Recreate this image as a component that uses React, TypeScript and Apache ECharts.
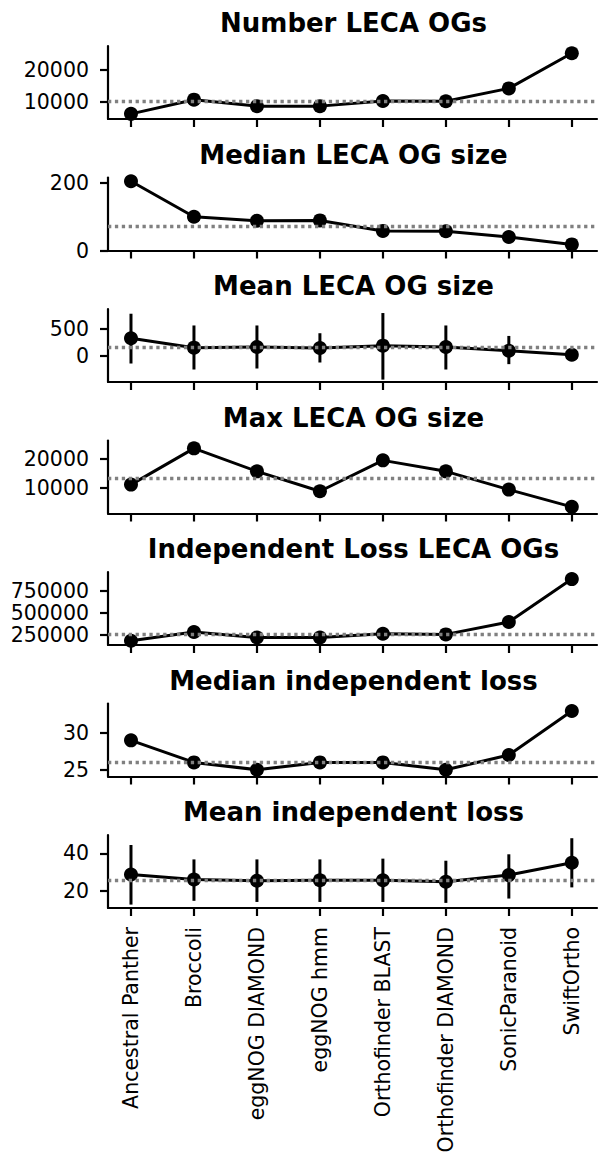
import React, { useEffect, useRef } from "react";
import * as echarts from "echarts";

const categories = [
  "Ancestral Panther",
  "Broccoli",
  "eggNOG DIAMOND",
  "eggNOG hmm",
  "Orthofinder BLAST",
  "Orthofinder DIAMOND",
  "SonicParanoid",
  "SwiftOrtho",
];

const numberOGs = [6300, 10700, 8700, 8700, 10300, 10200, 14200, 25100];
const numberOGsRef = 10250;
const numberOGsTicks = [10000, 20000];

const medianSize = [205, 100, 88, 89, 58, 57, 40, 18];
const medianSizeRef = 73;
const medianSizeTicks = [0, 200];

const meanSize = [329, 152, 165, 146, 190, 165, 95, 19];
const meanSizeLow = [-146, -259, -240, -127, -449, -259, -158, 0];
const meanSizeHigh = [791, 570, 570, 424, 804, 570, 373, 40];
const meanSizeRef = 158;
const meanSizeTicks = [0, 500];

const maxSize = [11030, 23600, 15630, 8740, 19430, 15630, 9310, 3330];
const maxSizeRef = 13330;
const maxSizeTicks = [10000, 20000];

const indepLoss = [181000, 281000, 219000, 219000, 261000, 254000, 396000, 885000];
const indepLossRef = 258000;
const indepLossTicks = [250000, 500000, 750000];

const medianLoss = [29, 26, 25, 26, 26, 25, 27, 33];
const medianLossRef = 26;
const medianLossTicks = [25, 30];

const meanLoss = [28.8, 26.2, 25.5, 25.8, 25.8, 25.0, 28.5, 35.0];
const meanLossLow = [12.9, 14.9, 14.3, 14.3, 14.3, 13.8, 16.1, 22.0];
const meanLossHigh = [44.4, 36.8, 36.8, 36.8, 37.2, 36.1, 39.5, 48.0];
const meanLossRef = 25.8;
const meanLossTicks = [20, 40];

const xTicks = [0, 1, 2, 3, 4, 5, 6, 7];

type Panel = {
  title: string;
  values: number[];
  ref: number;
  ticks: number[];
  min: number;
  max: number;
  low?: number[];
  high?: number[];
};

const panels: Panel[] = [
  { title: "Number LECA OGs", values: numberOGs, ref: numberOGsRef, ticks: numberOGsTicks, min: 4710, max: 27340 },
  { title: "Median LECA OG size", values: medianSize, ref: medianSizeRef, ticks: medianSizeTicks, min: 0, max: 216 },
  { title: "Mean LECA OG size", values: meanSize, ref: meanSizeRef, ticks: meanSizeTicks, min: -494, max: 880, low: meanSizeLow, high: meanSizeHigh },
  { title: "Max LECA OG size", values: maxSize, ref: maxSizeRef, ticks: maxSizeTicks, min: 1030, max: 26310 },
  { title: "Independent Loss LECA OGs", values: indepLoss, ref: indepLossRef, ticks: indepLossTicks, min: 133000, max: 966000 },
  { title: "Median independent loss", values: medianLoss, ref: medianLossRef, ticks: medianLossTicks, min: 24.08, max: 34.02 },
  { title: "Mean independent loss", values: meanLoss, ref: meanLossRef, ticks: meanLossTicks, min: 11.1, max: 49.7, low: meanLossLow, high: meanLossHigh },
];

const FONT = "DejaVu Sans";
const TOP0 = 46;
const STEP = 131.5;
const H = 73;
const LEFT = 108;
const RIGHT = 2;

export default function App() {
  const ref = useRef<HTMLDivElement>(null);
  useEffect(() => {
    document.body.style.margin = "0";
    const chart = echarts.init(ref.current!, null, { renderer: "svg" });
    const n = panels.length;
    const grids = panels.map((_, i) => ({ left: LEFT, right: RIGHT, top: TOP0 + i * STEP, height: H }));
    const xAxes = panels.map((_, i) => ({
      gridIndex: i,
      type: "value",
      min: -0.365,
      max: 7.4,
      axisLine: { show: true, onZero: false, lineStyle: { color: "#000", width: 2.2 } },
      axisTick: { show: true, customValues: xTicks, length: 8, lineStyle: { color: "#000", width: 2.2 } },
      axisLabel: {
        show: i === n - 1,
        customValues: xTicks,
        rotate: 90,
        margin: 19,
        fontSize: 20.5,
        fontFamily: FONT,
        color: "#000",
        formatter: (v: number) => categories[Math.round(v)] ?? "",
      },
      splitLine: { show: false },
    }));
    const yAxes = panels.map((p, i) => ({
      gridIndex: i,
      type: "value",
      min: p.min,
      max: p.max,
      axisLine: { show: true, onZero: false, lineStyle: { color: "#000", width: 2.2 } },
      axisTick: { show: true, customValues: p.ticks, length: 8, lineStyle: { color: "#000", width: 2.2 } },
      axisLabel: {
        show: true,
        customValues: p.ticks,
        margin: 19,
        fontSize: 20.5,
        fontFamily: FONT,
        color: "#000",
        formatter: (v: number) => String(v),
      },
      splitLine: { show: false },
    }));
    const series: any[] = [];
    panels.forEach((p, i) => {
      if (p.low && p.high) {
        const low = p.low;
        const high = p.high;
        series.push({
          type: "custom",
          xAxisIndex: i,
          yAxisIndex: i,
          z: 2,
          data: low.map((l, j) => [j, l, high[j]]),
          encode: { x: 0, y: [1, 2] },
          renderItem: (_params: any, api: any) => {
            const x = api.value(0);
            const a = api.coord([x, api.value(1)]);
            const b = api.coord([x, api.value(2)]);
            return {
              type: "line",
              shape: { x1: a[0], y1: a[1], x2: b[0], y2: b[1] },
              style: { stroke: "#000", lineWidth: 3 },
            };
          },
        });
      }
      series.push({
        type: "line",
        xAxisIndex: i,
        yAxisIndex: i,
        z: 3,
        data: p.values.map((v, j) => [j, v]),
        symbol: "circle",
        symbolSize: 14,
        lineStyle: { color: "#000", width: 3 },
        itemStyle: { color: "#000" },
        markLine: {
          silent: true,
          symbol: ["none", "none"],
          label: { show: false },
          lineStyle: { color: "#808080", width: 3.3, type: [3.3, 3.6], opacity: 1 },
          emphasis: { disabled: true },
          data: [{ yAxis: p.ref }],
        },
      });
    });
    const graphic = panels.map((p, i) => ({
      type: "text",
      x: LEFT + (599 - LEFT - RIGHT) / 2 + 1,
      y: TOP0 + i * STEP - 23,
      style: {
        text: p.title,
        fontSize: 26,
        fontWeight: "bold",
        fontFamily: FONT,
        fill: "#000",
        align: "center",
        verticalAlign: "middle",
      },
    }));
    chart.setOption({
      animation: false,
      backgroundColor: "#fff",
      grid: grids,
      xAxis: xAxes,
      yAxis: yAxes,
      series,
      graphic,
    });
    return () => chart.dispose();
  }, []);
  return <div ref={ref} style={{ width: 599, height: 1156 }} />;
}
